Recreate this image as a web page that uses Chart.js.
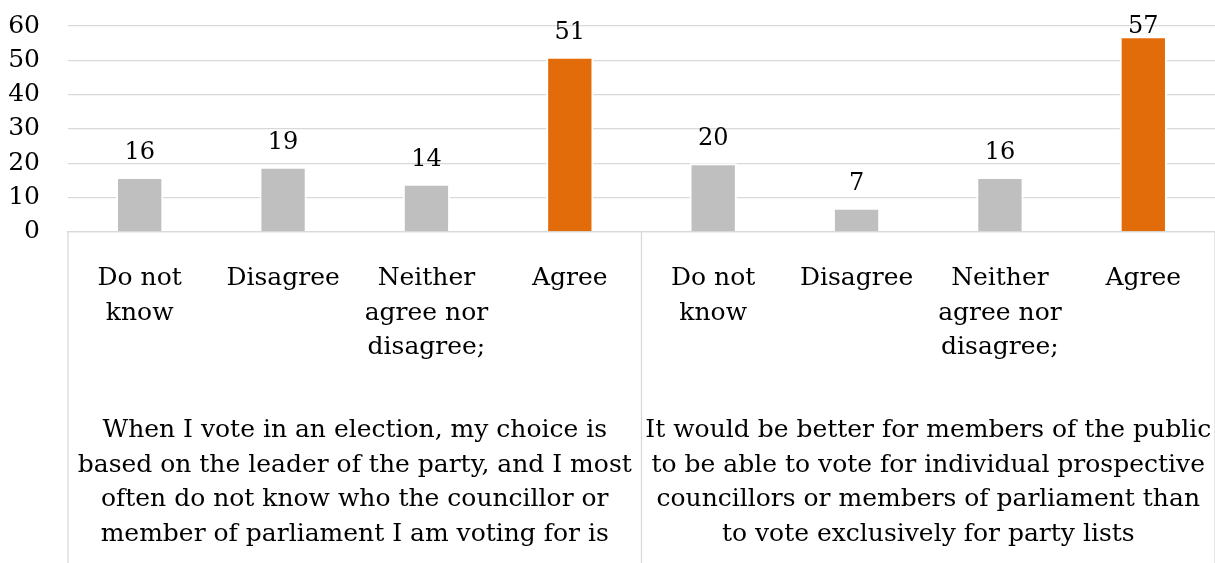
<!DOCTYPE html>
<html>
<head>
<meta charset="utf-8">
<script src="https://cdn.jsdelivr.net/npm/chart.js@4/dist/chart.umd.min.js"></script>
<style>
  html, body { margin: 0; padding: 0; background: #ffffff; }
  #wrap { width: 1215px; height: 563px; }
</style>
</head>
<body>
<div id="wrap"><canvas id="chart" width="1215" height="563"></canvas></div>
<script>
// Response options shown under each bar (one line per array entry)
const responseLabels = [
  ['Do not', 'know'],
  ['Disagree'],
  ['Neither', 'agree nor', 'disagree;'],
  ['Agree']
];

// The two survey statements, wrapped into lines
const statementLabels = [
  ['When I vote in an election, my choice is',
   'based on the leader of the party, and I most',
   'often do not know who the councillor or',
   'member of parliament I am voting for is'],
  ['It would be better for members of the public',
   'to be able to vote for individual prospective',
   'councillors or members of parliament than',
   'to vote exclusively for party lists']
];

// Percentages per response, for each statement
const leaderVoteValues = [16, 19, 14, 51];
const individualVoteValues = [20, 7, 16, 57];

// Value axis ticks
const yTicks = [0, 10, 20, 30, 40, 50, 60];

const FONT = 'DejaVu Serif';
const FONT_SIZE = 25;
const LINE_H = 1.384;
const GRID = '#d9d9d9';
const GREY = '#bfbfbf';
const ORANGE = '#e36c0a';

const allLabels = [...responseLabels, ...responseLabels];
const allValues = [...leaderVoteValues, ...individualVoteValues];

// Numbers written above every bar
const barValueLabels = {
  id: 'barValueLabels',
  afterDatasetsDraw(chart) {
    const ctx = chart.ctx;
    const meta = chart.getDatasetMeta(0);
    ctx.save();
    ctx.font = '24px "' + FONT + '"';
    ctx.fillStyle = '#000000';
    ctx.textAlign = 'center';
    ctx.textBaseline = 'alphabetic';
    meta.data.forEach((bar, i) => {
      const y = Math.max(bar.y - 18, 33);
      ctx.fillText(String(chart.data.datasets[0].data[i]), bar.x, y);
    });
    ctx.restore();
  }
};

// Vertical separators framing the two statement groups below the plot
const groupSeparators = {
  id: 'groupSeparators',
  afterDraw(chart) {
    const x = chart.scales.x;
    const ctx = chart.ctx;
    const half = chart.data.labels.length / 2;
    const mid = (x.getPixelForValue(half - 1) + x.getPixelForValue(half)) / 2;
    ctx.save();
    ctx.strokeStyle = GRID;
    ctx.lineWidth = 1.3;
    [x.left, mid, x.right].forEach(px => {
      ctx.beginPath();
      ctx.moveTo(px, chart.chartArea.bottom);
      ctx.lineTo(px, chart.height);
      ctx.stroke();
    });
    ctx.restore();
  }
};

const X_PAD = 29.4;
const X2_PAD = 18.9;

new Chart(document.getElementById('chart'), {
  type: 'bar',
  data: {
    labels: allLabels,
    datasets: [{
      data: allValues,
      backgroundColor: c => (allLabels[c.dataIndex][0] === 'Agree' ? ORANGE : GREY),
      borderColor: '#ffffff',
      borderWidth: 2,
      barPercentage: 0.33,
      categoryPercentage: 1.0
    }]
  },
  options: {
    responsive: false,
    animation: false,
    layout: { padding: { top: 26, left: 0, right: 0, bottom: 11.3 } },
    plugins: {
      legend: { display: false },
      tooltip: { enabled: false }
    },
    scales: {
      y: {
        min: 0,
        max: 60,
        afterBuildTicks: s => { s.ticks = yTicks.map(v => ({ value: v })); },
        afterFit: s => {
          s.width = 68;
          s.paddingTop = 0;
          s.paddingBottom = 0;
        },
        border: { display: false },
        grid: { color: GRID, lineWidth: 1.3, drawTicks: false },
        ticks: {
          autoSkip: false,
          padding: 28,
          color: '#000000',
          font: { family: FONT, size: FONT_SIZE }
        }
      },
      x: {
        offset: true,
        afterFit: s => {
          s.paddingLeft = 0;
          s.paddingRight = 0;
        },
        border: { display: true, color: GRID, width: 1.3 },
        grid: { display: false, drawTicks: false },
        ticks: {
          autoSkip: false,
          maxRotation: 0,
          minRotation: 0,
          padding: X_PAD,
          color: '#000000',
          font: { family: FONT, size: FONT_SIZE, lineHeight: LINE_H }
        }
      },
      x2: {
        type: 'category',
        position: 'bottom',
        labels: statementLabels,
        offset: true,
        afterFit: s => {
          s.paddingLeft = 0;
          s.paddingRight = 0;
          s.height = X2_PAD + 4 * FONT_SIZE * LINE_H;
        },
        border: { display: false },
        grid: { display: false, drawTicks: false },
        ticks: {
          autoSkip: false,
          maxRotation: 0,
          minRotation: 0,
          padding: X2_PAD,
          color: '#000000',
          font: { family: FONT, size: FONT_SIZE, lineHeight: LINE_H }
        }
      }
    }
  },
  plugins: [barValueLabels, groupSeparators]
});
</script>
</body>
</html>
